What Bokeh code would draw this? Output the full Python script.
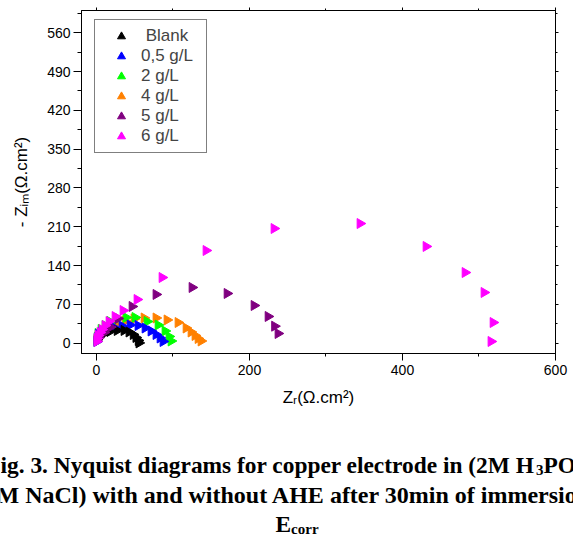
import numpy as np
from bokeh.plotting import figure
from bokeh.models import (Range1d, LinearAxis, SingleIntervalTicker, Legend,
                          LegendItem)
from bokeh.layouts import column
from bokeh.core.properties import value
from bokeh.embed import file_html
from bokeh.resources import INLINE

# ---------------- data ----------------
series_names = ["\u00a0Blank", "0,5 g/L", "2 g/L", "4 g/L", "5 g/L", "6 g/L"]
series_colors = ["#000000", "#0000FF", "#00FF00", "#FF8000", "#800080", "#FF00FF"]

blank_x = [1.0, 3.5, 10.0, 17.5, 27.0, 36.0, 42.5, 48.0, 51.5, 54.5, 55.5]
blank_y = [6.7, 12.1, 17.5, 21.1, 22.9, 22.9, 20.2, 15.7, 10.3, 4.9, 0.5]

c05_x = [0.5, 1.0, 2.5, 7.3, 13.8, 22.9, 33.4, 43.9, 54.3, 63.5, 71.3, 77.8, 83.1, 87.0]
c05_y = [3.1, 9.4, 15.7, 21.1, 24.7, 28.3, 31.0, 32.8, 31.9, 27.4, 22.0, 15.7, 9.4, 3.1]

c2_x = [0.5, 1.0, 2.0, 6.0, 11.2, 17.7, 26.9, 38.6, 50.4, 66.1, 80.5, 89.6, 94.8, 97.5]
c2_y = [3.1, 10.3, 17.5, 24.7, 31.9, 39.1, 43.7, 46.4, 46.4, 39.1, 32.8, 22.0, 12.1, 4.0]

c4_x = [0.7, 4.6, 9.9, 16.4, 25.6, 37.3, 49.1, 62.2, 77.8, 92.2, 106.6, 117.1, 123.6, 128.8, 132.8, 136.7]
c4_y = [6.7, 13.9, 21.1, 28.3, 34.6, 40.1, 43.7, 45.5, 45.5, 41.9, 37.3, 27.4, 20.2, 13.9, 8.5, 4.0]

c5_x = [3.3, 9.9, 18.4, 28.2, 46.5, 77.8, 124.9, 170.7, 206.0, 224.3, 232.8, 237.3]
c5_y = [10.3, 19.3, 29.2, 44.6, 66.2, 87.9, 100.5, 89.7, 68.0, 48.2, 30.7, 17.5]

c6_x = [0.5, 0.7, 2.0, 4.6, 7.3, 11.2, 16.4, 24.3, 34.7, 53.0, 85.7, 143.2, 232.1,
        344.5, 430.8, 481.8, 506.6, 518.4, 515.7]
c6_y = [3.1, 8.5, 13.9, 19.3, 24.7, 31.9, 39.1, 48.1, 59.0, 78.8, 118.5, 167.2, 206.9,
        215.9, 174.5, 127.5, 91.5, 37.3, 3.1]

series_x = [blank_x, c05_x, c2_x, c4_x, c5_x, c6_x]
series_y = [blank_y, c05_y, c2_y, c4_y, c5_y, c6_y]
draw_order = [3, 2, 1, 0, 4, 5]

x_major_interval = 200
y_major_interval = 70
x_title = "Zᵣ(Ω.cm²)"
y_title = "- Zᵢₘ(Ω.cm²)"

caption_line1 = "ig. 3. Nyquist diagrams for copper electrode in (2M H"
caption_sub1 = "3"
caption_line1b = "PO"
caption_line2 = "M NaCl) with and without AHE after 30min of immersion"
caption_line3 = "E"
caption_sub3 = "corr"

FONT = "Liberation Sans"
SERIF = "Liberation Serif"


def no_frame_align(fig):
    try:
        fig.frame_align = False
    except Exception:
        pass


# ---------------- main figure ----------------
p = figure(width=573, height=420, output_backend="svg", toolbar_location=None,
           x_range=Range1d(-19.6, 600), y_range=Range1d(-18.6, 600.2),
           min_border_left=81, min_border_right=18, min_border_top=10,
           min_border_bottom=67)
no_frame_align(p)
p.grid.visible = False
p.outline_line_color = "black"
p.outline_line_width = 1
p.background_fill_color = "white"
p.border_fill_color = "white"


def style_axis(ax, tick_out, minor_out):
    ax.axis_line_color = "black"
    ax.axis_line_width = 1
    ax.major_tick_line_color = "black"
    ax.minor_tick_line_color = "black"
    ax.major_tick_in = 0
    ax.minor_tick_in = 0
    ax.major_tick_out = tick_out
    ax.minor_tick_out = minor_out
    ax.major_label_text_font = FONT
    ax.major_label_text_font_size = "14px"
    ax.major_label_text_color = "black"
    ax.axis_label_text_font = FONT
    ax.axis_label_text_font_size = "17px"
    ax.axis_label_text_font_style = "normal"
    ax.axis_label_text_color = "black"


xa = p.xaxis[0]
xa.ticker = SingleIntervalTicker(interval=x_major_interval, num_minor_ticks=2)
style_axis(xa, 7, 3)
xa.major_label_standoff = 4
xa.axis_label = x_title
xa.axis_label_standoff = 10

ya = p.yaxis[0]
ya.ticker = SingleIntervalTicker(interval=y_major_interval, num_minor_ticks=2)
style_axis(ya, 8, 4)
ya.major_label_standoff = 3
ya.axis_label = y_title
ya.axis_label_standoff = 13


def mirror_axis(interval, lo, hi):
    ax = LinearAxis(ticker=SingleIntervalTicker(interval=interval, num_minor_ticks=2))
    style_axis(ax, 3, 2)
    ax.axis_label = None
    ax.major_label_overrides = {float(v): "" for v in range(lo, hi + 1, interval)}
    ax.major_label_text_font_size = "1px"
    ax.major_label_standoff = 0
    return ax


p.add_layout(mirror_axis(x_major_interval, 0, 600), "above")
p.add_layout(mirror_axis(y_major_interval, 0, 560), "right")

# ---------------- markers ----------------
renderers = {}
for i in draw_order:
    renderers[i] = p.scatter(series_x[i], series_y[i], marker="triangle",
                             angle=-np.pi / 2, size=10,
                             fill_color=series_colors[i], line_color=series_colors[i])

items = [LegendItem(label=series_names[i], renderers=[renderers[i]]) for i in range(6)]
legend = Legend(items=items, location=(13, 200), margin=0, padding=6, spacing=0,
                glyph_height=20, glyph_width=40, label_standoff=0, label_width=59,
                label_height=20, label_text_font=FONT, label_text_font_size="17px",
                border_line_color="black", border_line_width=1,
                background_fill_color="white", background_fill_alpha=1)
p.add_layout(legend)

# ---------------- caption (second figure, pixel-like coordinates) ----------------
cap = figure(width=573, height=126, output_backend="svg", toolbar_location=None,
             x_range=Range1d(0, 573), y_range=Range1d(126, 0),
             x_axis_location=None, y_axis_location=None,
             min_border=0, min_border_left=0, min_border_right=0,
             min_border_top=0, min_border_bottom=0)
no_frame_align(cap)
cap.grid.visible = False
cap.outline_line_color = None
cap.background_fill_color = "white"
cap.border_fill_color = "white"

CAP_PX = 23.4
CAP = f"{CAP_PX}px"
SUB = "15px"


def ctext(x, y, t, size):
    cap.text(x=[x], y=[y], text=[t], text_font=value(SERIF), text_font_size=value(size),
             text_font_style="bold", text_align="left", text_baseline="alphabetic",
             text_color="black")


w_line1 = 22.86 * CAP_PX
ctext(0, 44, caption_line1, CAP)
ctext(w_line1 + 0.5, 49, caption_sub1, SUB)
ctext(w_line1 + 8.0, 44, caption_line1b, CAP)
ctext(-4, 74, caption_line2, "24px")
ctext(275, 103, caption_line3, CAP)
ctext(275 + 0.667 * CAP_PX, 108, caption_sub3, SUB)

layout = column(p, cap, spacing=0)
open("out.html", "w").write(file_html(layout, INLINE))
